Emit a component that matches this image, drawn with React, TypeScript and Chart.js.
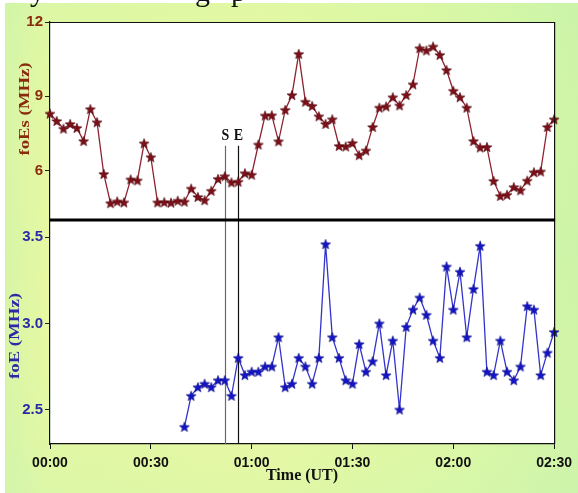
import { useEffect, useRef } from 'react';
import { Chart, registerables } from 'chart.js';

Chart.register(...registerables);

// Time in minutes after 00:00 UT
const TIMES = [
  0, 2, 4, 6, 8, 10, 12, 14, 16, 18, 20, 22, 24, 26, 28, 30, 32, 34, 36, 38,
  40, 42, 44, 46, 48, 50, 52, 54, 56, 58, 60, 62, 64, 66, 68, 70, 72, 74, 76, 78,
  80, 82, 84, 86, 88, 90, 92, 94, 96, 98, 100, 102, 104, 106, 108, 110, 112, 114, 116, 118,
  120, 122, 124, 126, 128, 130, 132, 134, 136, 138, 140, 142, 144, 146, 148, 150,
];

// foEs (MHz)
const FOES = [
  8.30, 8.00, 7.69, 7.88, 7.72, 7.19, 8.48, 7.95, 5.86, 4.68, 4.75, 4.71, 5.64, 5.60, 7.10, 6.54, 4.71, 4.72, 4.70, 4.78,
  4.74, 5.27, 4.93, 4.80, 5.18, 5.66, 5.77, 5.52, 5.55, 5.89, 5.83, 7.05, 8.22, 8.23, 7.18, 8.45, 9.05, 10.71, 8.78, 8.61,
  8.19, 7.88, 8.07, 6.99, 6.97, 7.11, 6.62, 6.81, 7.76, 8.54, 8.59, 8.96, 8.63, 9.05, 9.48, 10.94, 10.85, 11.01, 10.67, 10.06,
  9.22, 8.96, 8.54, 7.19, 6.93, 6.95, 5.58, 4.97, 5.02, 5.33, 5.20, 5.59, 5.93, 5.96, 7.76, 8.07,
];

// foE (MHz) — no data before 00:40
const FOE = [
  null, null, null, null, null, null, null, null, null, null, null, null, null, null, null, null, null, null, null, null,
  2.40, 2.58, 2.63, 2.65, 2.63, 2.67, 2.67, 2.58, 2.80, 2.70, 2.72, 2.72, 2.75, 2.75, 2.92, 2.63, 2.65, 2.80, 2.75, 2.65,
  2.80, 3.46, 2.92, 2.80, 2.67, 2.65, 2.88, 2.72, 2.78, 3.00, 2.70, 2.90, 2.50, 2.98, 3.08, 3.15, 3.05, 2.90, 2.80, 3.33,
  3.08, 3.30, 2.92, 3.20, 3.45, 2.72, 2.70, 2.90, 2.72, 2.67, 2.75, 3.10, 3.08, 2.70, 2.83, 2.95,
];

const X_TICKS = [0, 30, 60, 90, 120, 150];
const X_TICK_LABELS = ['00:00', '00:30', '01:00', '01:30', '02:00', '02:30'];
const FOES_TICKS = [6, 9, 12];
const FOE_TICKS = [2.5, 3.0, 3.5];
const FOES_RANGE = [4, 12];
const FOE_RANGE = [2.3, 3.6];
const EVENT_TIMES = [52.2, 55.9];
const EVENT_LABELS = ['S', 'E'];
const EVENT_COLORS = ['#6a6a6a', '#111111'];
const EVENT_TOP_FOES = 7.0;

const RED = '#7d1018';
const RED_LINE = '#8e2230';
const RED_TEXT = '#8a2a0c';
const BLUE = '#1414c8';
const BLUE_LINE = '#3434cc';
const BLUE_TEXT = '#2a2aa8';

function makeStar(fill: string, stroke: string) {
  const c = document.createElement('canvas');
  const s = 12;
  c.width = s;
  c.height = s;
  const g = c.getContext('2d')!;
  g.beginPath();
  for (let i = 0; i < 10; i++) {
    const r = i % 2 === 0 ? 5.2 : 2.2;
    const a = -Math.PI / 2 + (i * Math.PI) / 5;
    const px = s / 2 + r * Math.cos(a);
    const py = s / 2 + 0.5 + r * Math.sin(a);
    if (i === 0) g.moveTo(px, py);
    else g.lineTo(px, py);
  }
  g.closePath();
  g.fillStyle = fill;
  g.fill();
  g.strokeStyle = stroke;
  g.lineWidth = 0.6;
  g.stroke();
  return c;
}

const decorPlugin = {
  id: 'decor',
  beforeDraw(chart: any) {
    const { ctx, width, height, chartArea } = chart;
    ctx.save();
    const grad = ctx.createLinearGradient(0, 0, width, 0);
    grad.addColorStop(0, '#d4f4a8');
    grad.addColorStop(0.08, '#e6f8a2');
    grad.addColorStop(0.45, '#eef9a0');
    grad.addColorStop(0.8, '#def8a4');
    grad.addColorStop(1, '#ccf4a8');
    ctx.fillStyle = grad;
    ctx.fillRect(0, 0, width, height);
    const vg = ctx.createLinearGradient(0, 0, 0, height);
    vg.addColorStop(0, 'rgba(200,245,170,0.35)');
    vg.addColorStop(0.5, 'rgba(240,250,160,0.0)');
    vg.addColorStop(1, 'rgba(205,245,175,0.4)');
    ctx.fillStyle = vg;
    ctx.fillRect(0, 0, width, height);
    ctx.fillStyle = '#ffffff';
    ctx.fillRect(0, 0, 5, height);
    ctx.fillRect(0, 0, width, 3);
    // cropped caption fragments at the very top
    ctx.fillStyle = '#111';
    ctx.font = '30px "Liberation Serif"';
    ctx.textBaseline = 'alphabetic';
    ctx.fillText('y', 30, 1);
    ctx.fillText('g', 195, 1);
    ctx.fillText('p', 231, 1);
    // white plotting area
    ctx.fillStyle = '#ffffff';
    ctx.fillRect(chartArea.left, chartArea.top, chartArea.right - chartArea.left, chartArea.bottom - chartArea.top);
    ctx.restore();
  },
  beforeDatasetsDraw(chart: any) {
    const { ctx, chartArea, scales } = chart;
    const x = scales.x;
    const yTop = scales.yfoes.getPixelForValue(EVENT_TOP_FOES);
    ctx.save();
    EVENT_TIMES.forEach((t, i) => {
      const px = Math.round(x.getPixelForValue(t)) + 0.5;
      ctx.strokeStyle = EVENT_COLORS[i];
      ctx.lineWidth = 1.2;
      ctx.beginPath();
      ctx.moveTo(px, yTop);
      ctx.lineTo(px, chartArea.bottom);
      ctx.stroke();
      ctx.fillStyle = '#111';
      ctx.font = 'bold 14px "Liberation Serif"';
      ctx.textAlign = 'center';
      ctx.textBaseline = 'middle';
      ctx.save();
      ctx.translate(px, yTop - 10);
      ctx.scale(1, 1.2);
      ctx.fillText(EVENT_LABELS[i], 0, 0);
      ctx.restore();
    });
    ctx.restore();
  },
  afterDraw(chart: any) {
    const { ctx, chartArea, scales } = chart;
    const yf = scales.yfoes;
    const ye = scales.yfoe;
    ctx.save();
    ctx.strokeStyle = '#111';
    ctx.lineWidth = 1.2;
    ctx.beginPath();
    ctx.moveTo(chartArea.left, chartArea.top + 0.5);
    ctx.lineTo(chartArea.right + 0.5, chartArea.top + 0.5);
    ctx.lineTo(chartArea.right + 0.5, chartArea.bottom);
    ctx.stroke();
    // thick separator between panels
    ctx.lineWidth = 3;
    ctx.strokeStyle = '#000';
    ctx.beginPath();
    ctx.moveTo(chartArea.left, yf.bottom);
    ctx.lineTo(chartArea.right + 1, yf.bottom);
    ctx.stroke();
    // y-axis titles
    const drawTitle = (text: string, color: string, cx: number, cy: number) => {
      ctx.save();
      ctx.translate(cx, cy);
      ctx.rotate(-Math.PI / 2);
      ctx.scale(1.25, 1);
      ctx.fillStyle = color;
      ctx.font = 'bold 15px "Liberation Serif"';
      ctx.textAlign = 'center';
      ctx.textBaseline = 'middle';
      ctx.fillText(text, 0, 0);
      ctx.restore();
    };
    drawTitle('foEs (MHz)', RED_TEXT, chartArea.left - 25, (yf.top + yf.bottom) / 2 - 12);
    drawTitle('foE (MHz)', BLUE_TEXT, chartArea.left - 35, (ye.top + ye.bottom) / 2 + 4);
    ctx.restore();
  },
};

export default function App() {
  const ref = useRef<HTMLCanvasElement>(null);

  useEffect(() => {
    const canvas = ref.current;
    if (!canvas) return;
    const redStar = makeStar(RED, '#4a0008');
    const blueStar = makeStar(BLUE, '#0a0a80');

    const chart = new Chart(canvas, {
      type: 'line',
      data: {
        datasets: [
          {
            label: 'foEs',
            data: TIMES.map((t, i) => ({ x: t, y: FOES[i] })),
            yAxisID: 'yfoes',
            borderColor: RED_LINE,
            borderWidth: 1.3,
            pointStyle: redStar as any,
            pointRadius: 5,
            tension: 0,
            clip: 6,
          },
          {
            label: 'foE',
            data: TIMES.map((t, i) => ({ x: t, y: FOE[i] as any })),
            yAxisID: 'yfoe',
            borderColor: BLUE_LINE,
            borderWidth: 1.3,
            pointStyle: blueStar as any,
            pointRadius: 5,
            tension: 0,
            spanGaps: false,
            clip: 6,
          },
        ],
      },
      options: {
        animation: false,
        responsive: false,
        devicePixelRatio: 1,
        layout: { padding: { left: 0, right: 20, top: 22, bottom: 0 } },
        plugins: { legend: { display: false }, tooltip: { enabled: false }, title: { display: false } },
        scales: {
          x: {
            type: 'linear',
            position: 'bottom',
            min: 0,
            max: 150,
            afterBuildTicks: (s: any) => {
              s.ticks = X_TICKS.map((v) => ({ value: v }));
            },
            afterFit: (s: any) => {
              s.height = 49;
            },
            ticks: {
              autoSkip: false,
              maxRotation: 0,
              padding: 6,
              color: '#111',
              font: { family: 'Liberation Sans', weight: 'bold', size: 14 },
              callback: (v: any) => X_TICK_LABELS[X_TICKS.indexOf(Number(v))] ?? '',
            },
            grid: { display: true, drawOnChartArea: false, drawTicks: true, tickLength: 5, color: '#111', tickColor: '#111' },
            border: { display: true, color: '#111', width: 1.2 },
            title: {
              display: true,
              text: 'Time (UT)',
              color: '#111',
              font: { family: 'Liberation Serif', weight: 'bold', size: 16 },
              padding: { top: 0, bottom: 8 },
            },
          },
          yfoes: {
            type: 'linear',
            position: 'left',
            stack: 'panels',
            stackWeight: 198,
            weight: 1,
            min: FOES_RANGE[0],
            max: FOES_RANGE[1],
            afterBuildTicks: (s: any) => {
              s.ticks = FOES_TICKS.map((v) => ({ value: v }));
            },
            afterFit: (s: any) => {
              s.width = 50;
            },
            ticks: {
              padding: 2,
              color: RED_TEXT,
              font: { family: 'Liberation Sans', weight: 'bold', size: 15 },
              callback: (v: any) => String(v),
            },
            grid: { display: true, drawOnChartArea: false, drawTicks: true, tickLength: 5, color: '#222', tickColor: '#222' },
            border: { display: true, color: '#111', width: 1.2 },
          },
          yfoe: {
            type: 'linear',
            position: 'left',
            stack: 'panels',
            stackWeight: 224,
            weight: 0,
            min: FOE_RANGE[0],
            max: FOE_RANGE[1],
            afterBuildTicks: (s: any) => {
              s.ticks = FOE_TICKS.map((v) => ({ value: v }));
            },
            afterFit: (s: any) => {
              s.width = 50;
            },
            ticks: {
              padding: 2,
              color: BLUE_TEXT,
              font: { family: 'Liberation Sans', weight: 'bold', size: 15 },
              callback: (v: any) => Number(v).toFixed(1),
            },
            grid: { display: true, drawOnChartArea: false, drawTicks: true, tickLength: 5, color: '#222', tickColor: '#222' },
            border: { display: true, color: '#111', width: 1.2 },
          },
        },
      } as any,
      plugins: [decorPlugin],
    });

    return () => {
      chart.destroy();
    };
  }, []);

  return (
    <div style={{ position: 'fixed', left: 0, top: 0, width: 578, height: 493 }}>
      <canvas ref={ref} width={578} height={493} style={{ display: 'block', width: 578, height: 493 }} />
    </div>
  );
}
